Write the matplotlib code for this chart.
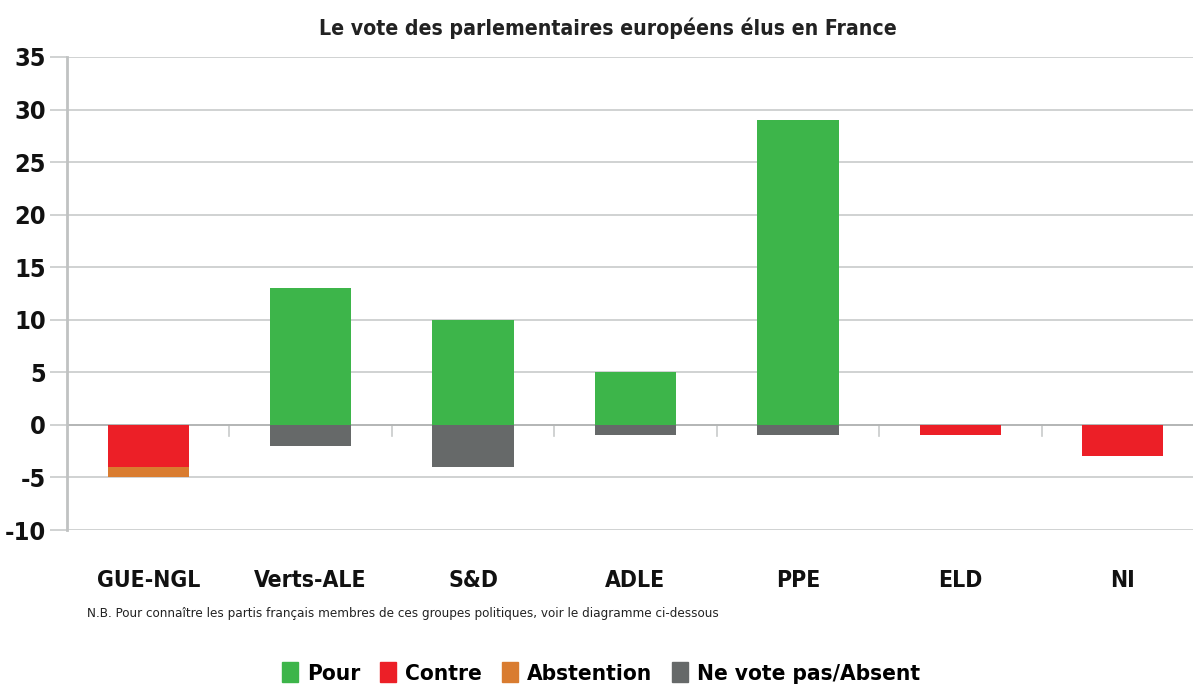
import matplotlib
matplotlib.use("Agg")
import matplotlib.pyplot as plt
from matplotlib import font_manager
from matplotlib.patches import Patch
import numpy as np

categories = ["GUE-NGL", "Verts-ALE", "S&D", "ADLE", "PPE", "ELD", "NI"]
pour = [0, 13, 10, 5, 29, 0, 0]
contre = [4, 0, 0, 0, 0, 1, 3]
abstention = [1, 0, 0, 0, 0, 0, 0]
absent = [0, 2, 4, 1, 1, 0, 0]
yticks = [-10, -5, 0, 5, 10, 15, 20, 25, 30, 35]
series_names = ["Pour", "Contre", "Abstention", "Ne vote pas/Absent"]
colors = ["#3db54a", "#ec1f27", "#d97c30", "#666969"]

# choose a condensed font if one is installed
fonts = font_manager.fontManager.ttflist
names = {f.name for f in fonts}
stretch = 'normal'
scale = 1.0
if "Liberation Sans Narrow" in names:
    fam = ["Liberation Sans Narrow", "DejaVu Sans"]
    scale = 1.2
elif any(f.name == "DejaVu Sans" and f.stretch in ("condensed", "semi-condensed", 75, 87.5) for f in fonts):
    fam = ["DejaVu Sans"]
    stretch = 'condensed'
    scale = 1.1
else:
    fam = ["DejaVu Sans"]
plt.rcParams['font.family'] = fam
plt.rcParams['font.stretch'] = stretch

fig = plt.figure(figsize=(11.93, 6.89), dpi=100)
ax = fig.add_axes([67/1193, 1-530/689, (1204-67)/1193, (530-57)/689])
x = np.arange(len(categories))
w = 0.5
pour = np.array(pour); contre = np.array(contre)
abstention = np.array(abstention); absent = np.array(absent)

ax.bar(x, pour, w, color=colors[0], zorder=3)
ax.bar(x, -contre, w, color=colors[1], zorder=3)
ax.bar(x, -abstention, w, bottom=-contre, color=colors[2], zorder=3)
ax.bar(x, -absent, w, bottom=-contre - abstention, color=colors[3], zorder=3)

ax.set_xlim(-0.5, len(categories) - 0.5)
ax.set_ylim(-10, 35)
ax.set_yticks(yticks)
ax.set_yticklabels([str(v) for v in yticks], fontsize=16.5*scale, fontweight='bold', color='#111111')
ax.grid(axis='y', color='#c8cbcb', linewidth=1.2, zorder=0)
ax.axhline(0, color='#b0b2b2', linewidth=1.2, zorder=2)
for b in np.arange(0.5, len(categories) - 0.5, 1):
    ax.plot([b, b], [0, -1.1], color='#c8cbcb', linewidth=1.2, zorder=1)
ax.tick_params(axis='y', length=12, color='#c8cbcb', width=1.2, pad=3)
ax.set_xticks(x)
ax.set_xticklabels(categories, fontsize=15*scale, fontweight='bold', color='#111111')
ax.tick_params(axis='x', length=0, pad=28)
for s in ['top', 'right', 'bottom']:
    ax.spines[s].set_visible(False)
ax.spines['left'].set_color('#c0c2c2')
ax.spines['left'].set_linewidth(2)

fig.text(608/1193, 1-28/689, "Le vote des parlementaires européens élus en France",
         ha='center', va='center', fontsize=13.8*scale, fontweight='bold', color='#222222')
fig.text(87/1193, 1-614/689,
         "N.B. Pour connaître les partis français membres de ces groupes politiques, voir le diagramme ci-dessous",
         ha='left', va='center', fontsize=8.8*scale, color='#222222')

handles = [Patch(color=c, label=n) for c, n in zip(colors, series_names)]
fig.legend(handles=handles, loc='center', bbox_to_anchor=(601/1193, 1-673/689), ncol=4,
           frameon=False, prop={'size': 14.7*scale, 'weight': 'bold', 'stretch': stretch},
           handlelength=0.7, handleheight=1.0, handletextpad=0.4, columnspacing=0.9)

fig.savefig("out.png", dpi=100)
